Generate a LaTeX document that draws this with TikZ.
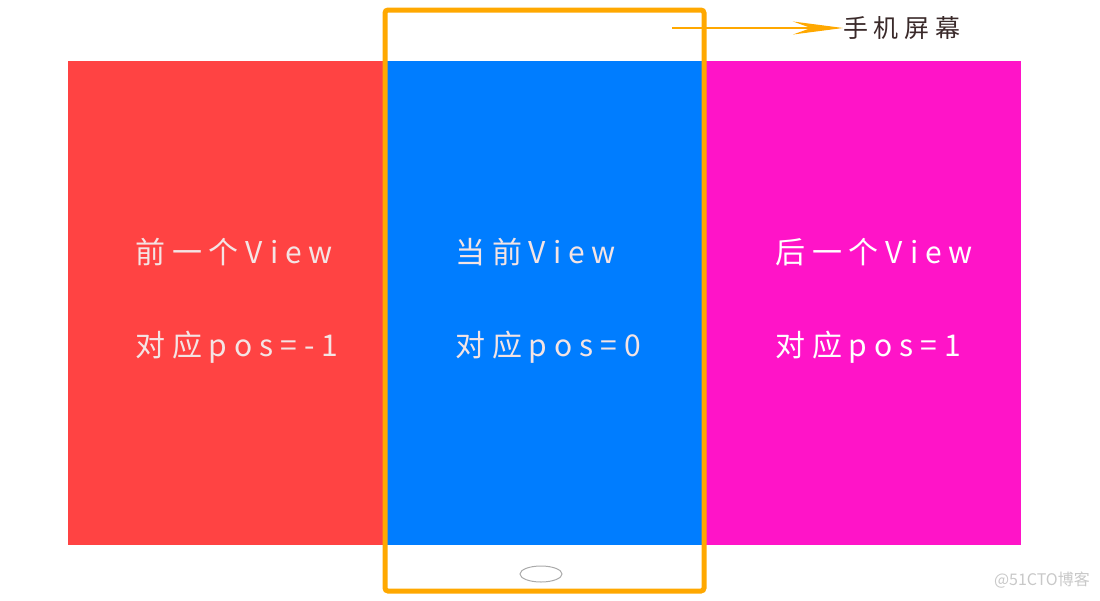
\documentclass[tikz,border=0pt]{standalone}
\usepackage{fontspec}
\usepackage{xcolor}
\usetikzlibrary{arrows.meta,shapes.geometric}
\newfontfamily\cjk[LetterSpace=23]{Noto Sans CJK SC}
\newfontfamily\cjkplain{Noto Sans CJK SC}
\definecolor{prevred}{HTML}{FF4343}
\definecolor{curblue}{HTML}{007DFF}
\definecolor{nextpink}{HTML}{FF14C8}
\definecolor{phoneorange}{HTML}{FFA800}
\definecolor{viewtext}{HTML}{F4E4E4}
\definecolor{labelbrown}{HTML}{3A2A2A}
\definecolor{markgray}{HTML}{C8C8C8}

\begin{document}
\begin{tikzpicture}[x=1pt, y=-1pt,
    view/.style={anchor=north west, inner sep=0pt, minimum width=317pt, minimum height=484pt},
    viewtext/.style={anchor=west, inner sep=0pt, text=viewtext, font=\cjk\fontsize{30}{36}\selectfont},
    phone/.style={draw=phoneorange, line width=5pt, rounded corners=3pt, inner sep=0pt,
        minimum width=319pt, minimum height=581pt},
    homekey/.style={ellipse, draw=markgray!85!black, line width=1pt, inner sep=0pt,
        minimum width=42pt, minimum height=16pt}]
    \useasboundingbox (0,0) rectangle (1100,600);

    % the three pages
    \node[view, fill=prevred] (prev) at (68,61) {};
    \node[view, fill=curblue] (cur) at (386,61) {};
    \node[view, fill=nextpink] (next) at (704,61) {};

    \node[viewtext] (prevname) at (135,252) {前一个View};
    \node[viewtext] (prevpos) at (135,347) {对应pos=-1};
    \node[viewtext] (curname) at (455,252) {当前View};
    \node[viewtext] (curpos) at (455,347) {对应pos=0};
    \node[viewtext, text=white] (nextname) at (775,252) {后一个View};
    \node[viewtext, text=white] (nextpos) at (775,347) {对应pos=1};

    % the phone frame
    \node[phone] (phone) at (544.5,300.5) {};
    \node[homekey] (home) at (541,574) {};

    \coordinate (arrowstart) at (672,28);
    \node[anchor=west, inner sep=0pt, text=labelbrown, font=\cjk\fontsize{25}{30}\selectfont]
        (screen) at (843,28) {手机屏幕};
    \draw[phoneorange, line width=1.2pt, -{Stealth[length=50pt, width=13pt, inset=18pt]}]
        (arrowstart) -- (screen.west);

    \node[anchor=east, inner sep=0pt, text=markgray, font=\cjkplain\fontsize{16}{18}\selectfont]
        (mark) at (1090,580) {@51CTO博客};
\end{tikzpicture}
\end{document}
